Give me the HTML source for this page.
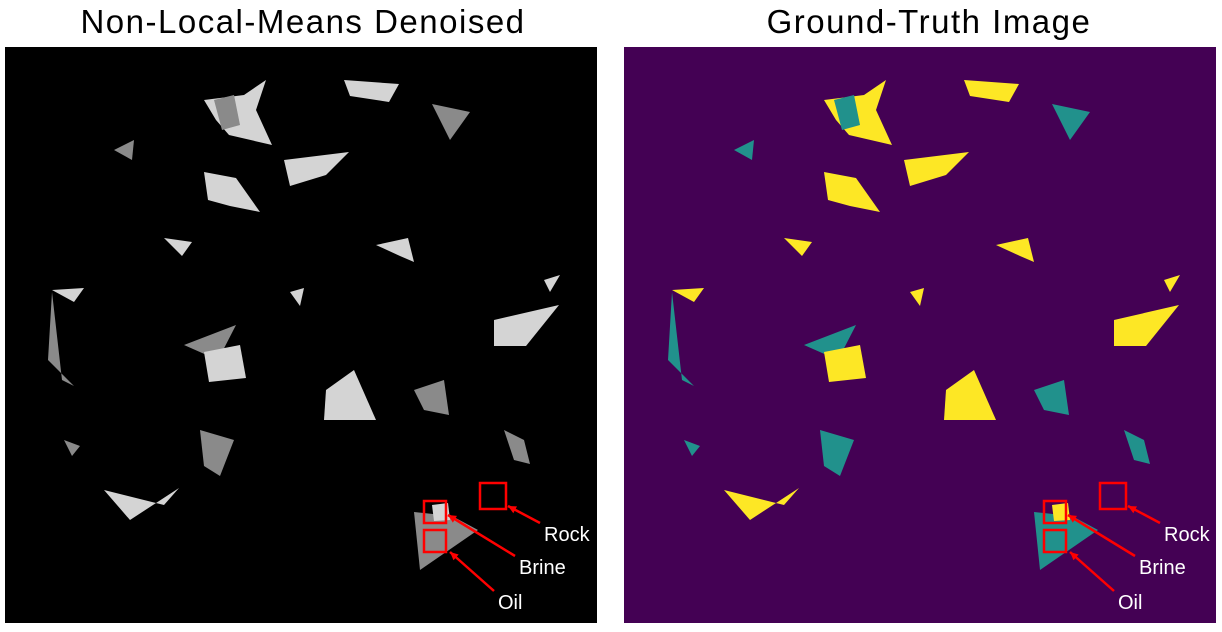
<!DOCTYPE html>
<html><head><meta charset="utf-8"><style>
body{margin:0;width:1222px;height:627px;background:#fff;overflow:hidden;font-family:"Liberation Sans","Noto Sans CJK SC",sans-serif}
</style></head><body>
<svg id="fig" width="1222" height="627" xmlns="http://www.w3.org/2000/svg">
<text x="303" y="33" font-size="33" letter-spacing="1.5" text-anchor="middle" fill="#000">Non-Local-Means Denoised</text>
<text x="929" y="33" font-size="33" letter-spacing="1.5" text-anchor="middle" fill="#000">Ground-Truth Image</text>
<rect x="5" y="47" width="592" height="576" fill="#000"/>
<rect x="624" y="47" width="592" height="576" fill="#440154"/>
<g id="leftg"></g>
<g id="rightg"></g>
<g id="ann"></g>
</svg>
<script>
// phase-region outlines, relative to panel left edge; y absolute
const blobTypes=['y','t','y','y','t','y','y','y','y','t','y','y','t','y','y','t','y','t','t','t','y','t','t','y'];
const blobs=[
[[200,100],[240,95],[262,80],[252,110],[268,145],[225,135],[212,120]],
[[210,100],[230,95],[236,125],[218,130]],
[[340,80],[395,84],[385,102],[346,96]],
[[200,172],[232,178],[256,212],[226,206],[204,200]],
[[428,104],[466,112],[446,140]],
[[280,160],[345,152],[322,175],[286,186]],
[[160,238],[188,242],[178,256]],
[[372,245],[404,238],[410,262],[396,256]],
[[48,290],[80,288],[70,302]],
[[48,292],[58,380],[70,386],[44,360]],
[[540,280],[556,275],[546,292]],
[[490,320],[555,305],[522,346],[490,346]],
[[180,345],[232,325],[214,360]],
[[200,352],[236,345],[242,378],[205,382]],
[[322,390],[350,370],[372,420],[320,420]],
[[196,430],[230,440],[216,476],[200,466]],
[[100,490],[160,505],[175,488],[126,520]],
[[500,430],[520,440],[526,464],[510,460]],
[[60,440],[76,446],[68,456]],
[[410,512],[448,516],[474,530],[416,570]],
[[428,505],[444,503],[446,520],[430,521]],
[[410,390],[440,380],[445,415],[420,410]],
[[110,150],[130,140],[128,160]],
[[286,292],[300,288],[296,306]]
];
const panels=[{g:'leftg',x0:4,col:{y:'#d4d4d4',t:'#8a8a8a'}},{g:'rightg',x0:624,col:{y:'#fde725',t:'#21918c'}}];
panels.forEach(p=>{
  const g=document.getElementById(p.g);
  blobs.forEach((b,i)=>{
    const el=document.createElementNS('http://www.w3.org/2000/svg','polygon');
    
    
    el.setAttribute('points',b.map(q=>(q[0]+p.x0)+','+q[1]).join(' '));
    el.setAttribute('fill',p.col[blobTypes[i]]);
    g.appendChild(el);
  });
});
const annNames=['Rock','Brine','Oil'];
const annBoxes=[[476,483,26],[420,501,22],[420,530,22]];
const annLabels=[[540,541],[515,574],[494,609]];
const annTips=[[504,506],[444,515],[446,552]];
const ann=document.getElementById('ann');
const NS='http://www.w3.org/2000/svg';
panels.forEach(p=>{
  annNames.forEach((n,i)=>{
    const r=document.createElementNS(NS,'rect');
    
    
    r.setAttribute('x',annBoxes[i][0]+p.x0);r.setAttribute('y',annBoxes[i][1]);
    r.setAttribute('width',annBoxes[i][2]);r.setAttribute('height',annBoxes[i][2]);
    r.setAttribute('fill','none');r.setAttribute('stroke','#ff0000');r.setAttribute('stroke-width','2.5');
    ann.appendChild(r);
    const lx=annLabels[i][0]+p.x0-4, ly=annLabels[i][1]-18;
    const tx=annTips[i][0]+p.x0, ty=annTips[i][1];
    const l=document.createElementNS(NS,'line');
    
    
    l.setAttribute('x1',lx);l.setAttribute('y1',ly);l.setAttribute('x2',tx);l.setAttribute('y2',ty);
    l.setAttribute('stroke','#ff0000');l.setAttribute('stroke-width','2.5');
    ann.appendChild(l);
    const a=Math.atan2(ty-ly,tx-lx);
    const h=document.createElementNS(NS,'polygon');
    
    
    const p1=[tx-9*Math.cos(a-0.45),ty-9*Math.sin(a-0.45)],p2=[tx-9*Math.cos(a+0.45),ty-9*Math.sin(a+0.45)];
    h.setAttribute('points',tx+','+ty+' '+p1.join(',')+' '+p2.join(','));
    h.setAttribute('fill','#ff0000');
    ann.appendChild(h);
    const t=document.createElementNS(NS,'text');
    
    
    t.setAttribute('x',annLabels[i][0]+p.x0);t.setAttribute('y',annLabels[i][1]);
    t.setAttribute('font-size','20');t.setAttribute('fill','#fff');
    t.textContent=n;
    ann.appendChild(t);
  });
});
</script>
</body></html>
